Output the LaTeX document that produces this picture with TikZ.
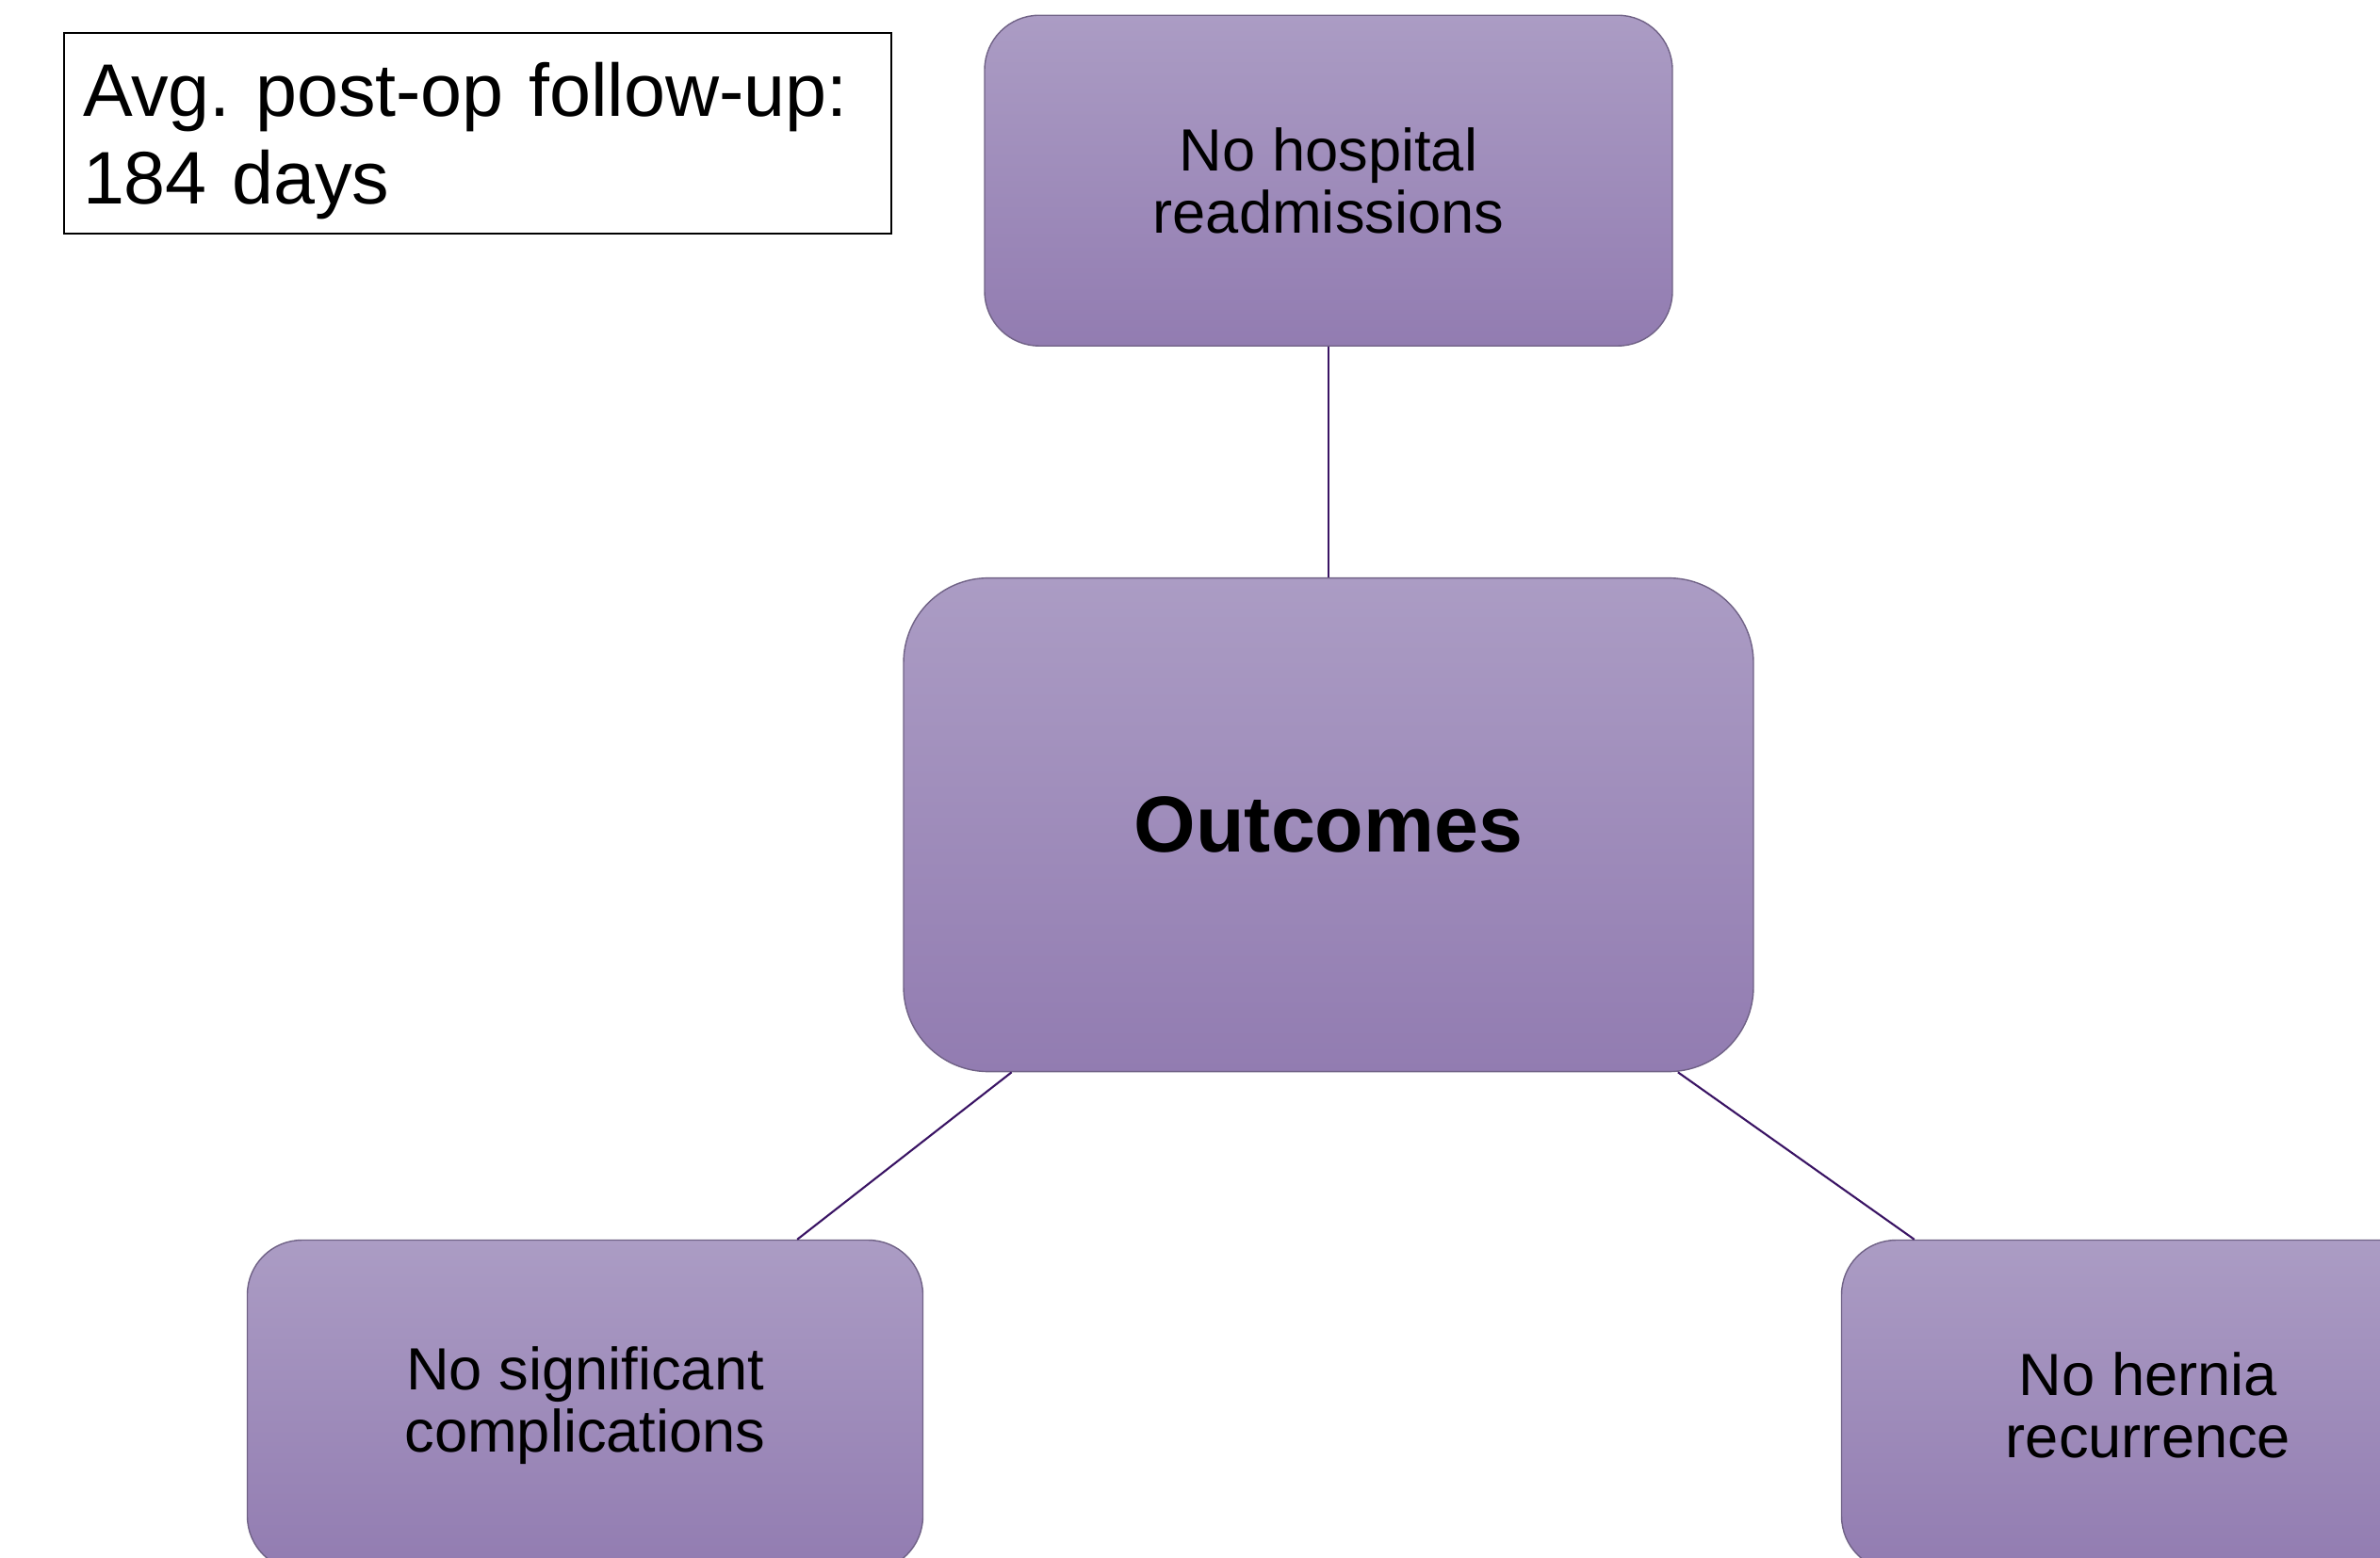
\documentclass[tikz,border=0pt]{standalone}
\usepackage{fontspec}
\setmainfont{Liberation Sans}
\usepackage{tikz}

\definecolor{boxtop}{RGB}{171,156,196}
\definecolor{boxbot}{RGB}{146,124,177}
\definecolor{boxline}{RGB}{112,98,134}
\definecolor{linecol}{RGB}{58,20,100}

\tikzset{
    petal/.style={draw=boxline, line width=0.4pt, rounded corners=0.58cm,
        top color=boxtop, bottom color=boxbot, align=center,
        minimum height=3.51cm, font=\fontsize{18}{18.6}\selectfont},
    spoke/.style={draw=linecol, line width=0.6pt}
}

\begin{document}
\frenchspacing
\begin{tikzpicture}
    \path[use as bounding box, clip] (0,0) rectangle (25.26,-16.53);

    % Nodes
    \node[draw, line width=0.6pt, text width=8.38cm, inner xsep=0.2cm, inner ysep=0.02cm,
        minimum height=2.13cm, align=left, font=\fontsize{22.5}{26.5}\selectfont]
        (followup) at (5.07,-1.415) {\rule{0pt}{21pt}Avg. post-op follow-up:\\184 days};
    \node[petal, minimum width=7.3cm] (readmit) at (14.10,-1.917) {No hospital\\readmissions};
    \node[petal, rounded corners=0.9cm, minimum width=9.02cm, minimum height=5.24cm,
        font=\bfseries\fontsize{24}{28}\selectfont] (outcomes) at (14.10,-8.756) {Outcomes};
    \node[petal, minimum width=7.17cm] (complic) at (6.21,-14.92) {No significant\\complications};
    \node[petal, minimum width=6.51cm] (recur) at (22.80,-14.92) {No hernia\\recurrence};

    % Lines
    \draw[spoke] (outcomes) -- (readmit);
    \draw[spoke] (outcomes) -- (complic);
    \draw[spoke] (outcomes) -- (recur);

\end{tikzpicture}
\end{document}
